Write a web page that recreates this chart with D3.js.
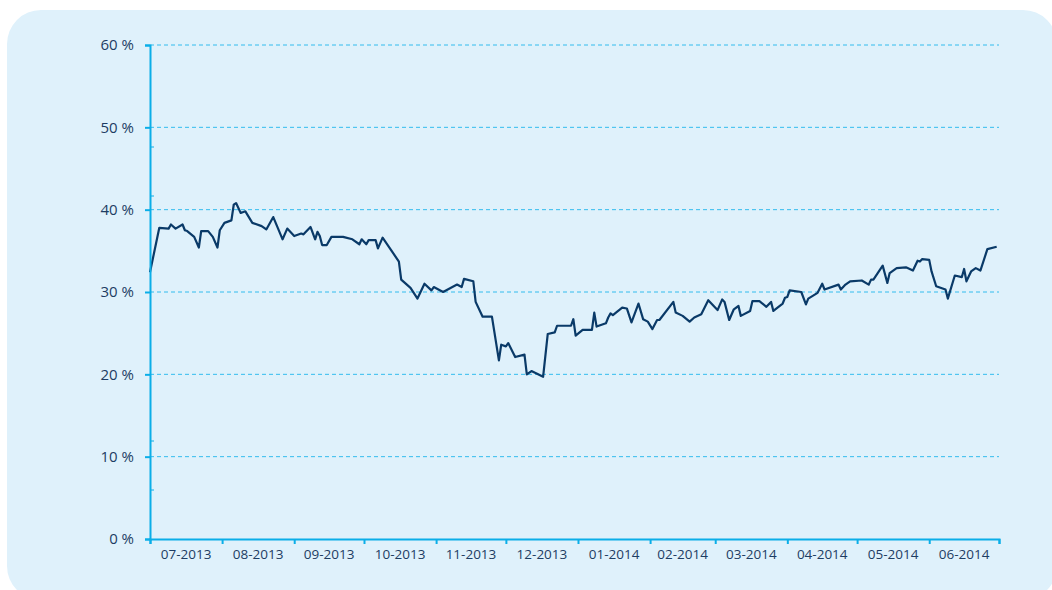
<!DOCTYPE html>
<html>
<head>
<meta charset="utf-8">
<script src="https://cdn.jsdelivr.net/npm/d3@7"></script>
<style>
  html, body { margin: 0; padding: 0; background: #ffffff; }
  svg { display: block; font-family: "Open Sans", "Noto Sans", sans-serif; }
</style>
</head>
<body>
<div id="chart"></div>
<script>
// Series: date / value (%)
const dates = [
  '2013-07-01','2013-07-05','2013-07-09','2013-07-10','2013-07-12','2013-07-15','2013-07-16','2013-07-17',
  '2013-07-20','2013-07-22','2013-07-23','2013-07-26','2013-07-28','2013-07-30','2013-07-31','2013-08-02',
  '2013-08-05','2013-08-06','2013-08-07','2013-08-09','2013-08-11','2013-08-14','2013-08-18','2013-08-20',
  '2013-08-23','2013-08-27','2013-08-29','2013-09-01','2013-09-04','2013-09-05','2013-09-08','2013-09-10',
  '2013-09-11','2013-09-12','2013-09-13','2013-09-15','2013-09-17','2013-09-22','2013-09-26','2013-09-29',
  '2013-09-30','2013-10-02','2013-10-03','2013-10-06','2013-10-07','2013-10-09','2013-10-16','2013-10-17',
  '2013-10-21','2013-10-24','2013-10-27','2013-10-30','2013-10-31','2013-11-04','2013-11-10','2013-11-12',
  '2013-11-13','2013-11-17','2013-11-18','2013-11-21','2013-11-25','2013-11-28','2013-11-29','2013-12-01',
  '2013-12-02','2013-12-05','2013-12-09','2013-12-10','2013-12-12','2013-12-17','2013-12-19','2013-12-22',
  '2013-12-23','2013-12-29','2013-12-30','2013-12-31','2014-01-03','2014-01-07','2014-01-08','2014-01-09',
  '2014-01-13','2014-01-14','2014-01-15','2014-01-16','2014-01-20','2014-01-22','2014-01-24','2014-01-27',
  '2014-01-29','2014-01-31','2014-02-02','2014-02-04','2014-02-05','2014-02-11','2014-02-12','2014-02-15',
  '2014-02-18','2014-02-20','2014-02-23','2014-02-26','2014-03-02','2014-03-04','2014-03-05','2014-03-07',
  '2014-03-09','2014-03-11','2014-03-12','2014-03-16','2014-03-17','2014-03-20','2014-03-23','2014-03-25',
  '2014-03-26','2014-03-30','2014-03-31','2014-04-01','2014-04-02','2014-04-07','2014-04-09','2014-04-10',
  '2014-04-14','2014-04-16','2014-04-17','2014-04-23','2014-04-24','2014-04-26','2014-04-28','2014-05-03',
  '2014-05-06','2014-05-07','2014-05-08','2014-05-12','2014-05-14','2014-05-15','2014-05-18','2014-05-22',
  '2014-05-25','2014-05-27','2014-05-28','2014-05-29','2014-06-01','2014-06-02','2014-06-04','2014-06-08',
  '2014-06-09','2014-06-12','2014-06-15','2014-06-16','2014-06-17','2014-06-19','2014-06-21','2014-06-23',
  '2014-06-26','2014-06-30'
];
const values = [
  32.4, 37.8, 37.7, 38.2, 37.7, 38.2, 37.5, 37.4,
  36.7, 35.4, 37.4, 37.4, 36.7, 35.4, 37.5, 38.4,
  38.7, 40.6, 40.8, 39.6, 39.8, 38.4, 38.0, 37.6,
  39.1, 36.4, 37.7, 36.8, 37.1, 37.0, 37.9, 36.4,
  37.3, 36.8, 35.7, 35.7, 36.7, 36.7, 36.4, 35.8,
  36.4, 35.8, 36.3, 36.3, 35.3, 36.6, 33.7, 31.5,
  30.5, 29.2, 31.0, 30.2, 30.6, 30.0, 30.9, 30.6,
  31.6, 31.3, 28.8, 27.0, 27.0, 21.7, 23.6, 23.4,
  23.8, 22.1, 22.4, 20.0, 20.4, 19.7, 24.9, 25.1,
  25.9, 25.9, 26.7, 24.7, 25.4, 25.4, 27.5, 25.8,
  26.2, 26.9, 27.4, 27.2, 28.1, 28.0, 26.3, 28.6,
  26.7, 26.4, 25.5, 26.6, 26.6, 28.8, 27.5, 27.1,
  26.4, 26.9, 27.3, 29.0, 27.8, 29.1, 28.8, 26.6,
  27.9, 28.3, 27.1, 27.7, 28.9, 28.9, 28.2, 28.8,
  27.7, 28.6, 29.3, 29.4, 30.2, 30.0, 28.5, 29.2,
  29.9, 31.0, 30.3, 30.9, 30.3, 30.9, 31.3, 31.4,
  30.9, 31.5, 31.5, 33.2, 31.1, 32.3, 32.9, 33.0,
  32.6, 33.8, 33.7, 34.0, 33.9, 32.5, 30.7, 30.3,
  29.2, 32.0, 31.8, 32.8, 31.3, 32.5, 32.9, 32.6,
  35.2, 35.5
];
const yTicks = [0, 10, 20, 30, 40, 50, 60];
const monthLabels = ['07-2013','08-2013','09-2013','10-2013','11-2013','12-2013',
                     '01-2014','02-2014','03-2014','04-2014','05-2014','06-2014'];
const startDate = '2013-07-01';
const endDate = '2014-07-01';

const W = 1052, H = 590;
const parse = d3.timeParse('%Y-%m-%d');
const data = dates.map((d, i) => ({ date: parse(d), value: values[i] }));

const svg = d3.select('#chart').append('svg')
  .attr('width', W).attr('height', H);

// Card background
svg.append('rect')
  .attr('x', 7).attr('y', 10)
  .attr('width', 1050).attr('height', 590)
  .attr('rx', 34).attr('ry', 34)
  .attr('fill', '#dff1fb');

const x = d3.scaleTime()
  .domain([parse(startDate), parse(endDate)])
  .range([150, 999]);
const y = d3.scaleLinear()
  .domain([0, 60])
  .range([539, 45]);

const axisColor = '#0aaee8';
const textColor = '#1d3d63';

// Grid lines
svg.append('g')
  .selectAll('line')
  .data(yTicks.filter(d => d > 0))
  .join('line')
  .attr('x1', x.range()[0]).attr('x2', x.range()[1])
  .attr('y1', d => y(d)).attr('y2', d => y(d))
  .attr('stroke', '#33bcee')
  .attr('stroke-width', 1)
  .attr('stroke-dasharray', '4,3');

// Minor ticks (secondary scale)
const minor = d3.scaleLinear().domain([0, 8]).range([539, 147]);
svg.append('g')
  .selectAll('line')
  .data([1, 2, 7, 8])
  .join('line')
  .attr('x1', 151).attr('x2', 154)
  .attr('y1', d => minor(d)).attr('y2', d => minor(d))
  .attr('stroke', axisColor)
  .attr('stroke-width', 1);

// Line
const line = d3.line()
  .x(d => x(d.date))
  .y(d => y(d.value));

svg.append('path')
  .datum(data)
  .attr('fill', 'none')
  .attr('stroke', '#0a3a68')
  .attr('stroke-width', 2.2)
  .attr('stroke-linejoin', 'round')
  .attr('d', line);

// Y axis
const yAxis = svg.append('g')
  .attr('transform', 'translate(150,0)')
  .call(d3.axisLeft(y).tickValues(yTicks).tickSize(5).tickPadding(11)
    .tickFormat(d => d + ' %'));
yAxis.select('.domain').attr('stroke', axisColor).attr('stroke-width', 2);
yAxis.selectAll('.tick line').attr('stroke', axisColor).attr('stroke-width', 2);
yAxis.selectAll('.tick text')
  .attr('fill', textColor)
  .style('font-size', '15px')
  .style('font-family', '"Open Sans", sans-serif');

// X axis
const xAxis = svg.append('g')
  .attr('transform', 'translate(0,539)')
  .call(d3.axisBottom(x).ticks(d3.timeMonth.every(1)).tickSize(5).tickFormat(''));
xAxis.select('.domain').attr('stroke', axisColor).attr('stroke-width', 2);
xAxis.selectAll('.tick line').attr('stroke', axisColor).attr('stroke-width', 2);

// Month labels centered between ticks
const months = d3.timeMonth.range(parse(startDate), parse(endDate));
svg.append('g')
  .selectAll('text')
  .data(months)
  .join('text')
  .attr('x', d => (x(d) + x(d3.timeMonth.offset(d, 1))) / 2)
  .attr('y', 559)
  .attr('text-anchor', 'middle')
  .attr('fill', textColor)
  .style('font-size', '13.5px')
  .text((d, i) => monthLabels[i]);
</script>
</body>
</html>
